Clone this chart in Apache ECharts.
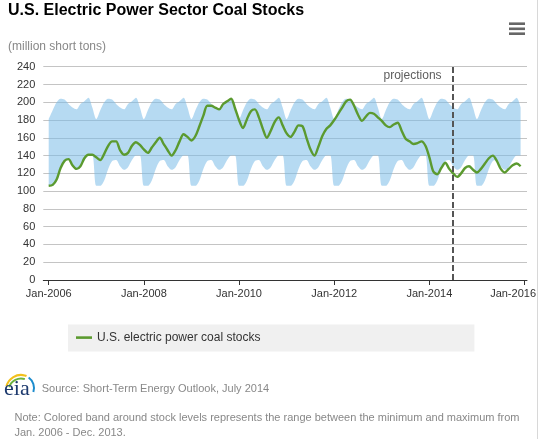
<!DOCTYPE html>
<html>
<head>
<meta charset="utf-8">
<script src="https://cdn.jsdelivr.net/npm/echarts@6/dist/echarts.min.js"></script>
<style>
  html, body { margin: 0; padding: 0; background: #fff; }
  #chart { width: 539px; height: 439px; }
</style>
</head>
<body>
<div id="chart"></div>
<script>
// ---- Data (million short tons), monthly Jan-2006 .. Dec-2015 ----
const seriesName = 'U.S. electric power coal stocks';
const coalStocks = [
  106, 107, 113, 126, 134, 136, 129, 125, 128, 137, 141, 141, // 2006
  138, 135, 142, 151, 156, 156, 146, 141, 143, 151, 155, 152, // 2007
  147, 143, 149, 155, 160, 153, 146, 140, 146, 156, 164, 161, // 2008
  157, 162, 173, 185, 196, 196, 194, 192, 198, 201, 204, 193, // 2009
  180, 171, 181, 190, 192, 183, 170, 160, 168, 178, 183, 174, // 2010
  165, 161, 167, 174, 173, 160, 147, 140, 150, 162, 170, 174, // 2011
  180, 187, 194, 201, 203, 196, 186, 179, 184, 188, 187, 183, // 2012
  179, 174, 172, 175, 177, 168, 159, 156, 153, 154, 156, 151, // 2013
  138, 122, 119, 126, 132, 125, 120, 116, 120, 126, 128, 124, // 2014
  121, 125, 131, 137, 140, 134, 125, 121, 125, 129, 131, 128  // 2015
];
// Monthly min / max range (Jan..Dec) 2006-2013, shown each year
const bandMin = [106, 106, 112, 125, 134, 135, 128, 124, 127, 135, 140, 140];
const bandMax = [181, 191, 200, 204, 203, 198, 194, 192, 198, 201, 205, 194];
const bandYears = 10;
const firstYear = 2006, lastYear = 2016;
const monthNames = ['Jan','Feb','Mar','Apr','May','Jun','Jul','Aug','Sep','Oct','Nov','Dec'];
const projectionStart = 101.6;          // month index (mid-2014)
const yTicks = { min: 0, max: 240, step: 20 };

// ---- Build tables ----
const categories = [];
for (let y = firstYear; y < lastYear; y++) monthNames.forEach(m => categories.push(m + '-' + y));
categories.push('Jan-' + lastYear);
const lowData = [], rangeData = [];
for (let y = 0; y < bandYears; y++) {
  for (let m = 0; m < 12; m++) {
    lowData.push(bandMin[m]);
    rangeData.push(bandMax[m] - bandMin[m]);
  }
}

const FF = '"Liberation Sans", Arial, sans-serif';
const green = '#5b9a2f';
const GT = 66.7, GB = 159;

const chart = echarts.init(document.getElementById('chart'), null, { renderer: 'canvas' });
chart.setOption({
  animation: false,
  backgroundColor: '#fff',
  textStyle: { fontFamily: FF },
  title: [
    { text: 'U.S. Electric Power Sector Coal Stocks', left: 8, top: 2.5, padding: 0,
      textStyle: { fontFamily: FF, fontSize: 16, fontWeight: 'bold', color: '#000' } },
    { text: '(million short tons)', left: 8, top: 41, padding: 0,
      textStyle: { fontFamily: FF, fontSize: 12, fontWeight: 'normal', color: '#888' } }
  ],
  grid: [
    { left: 43.3, right: 12, top: GT, bottom: GB },
    { left: 48.7, right: 13.3, top: GT, bottom: GB }
  ],
  legend: {
    data: [seriesName],
    left: 68, top: 324.5,
    backgroundColor: '#f0f0f0',
    padding: [6, 214, 7, 8],
    itemWidth: 16, itemHeight: 14,
    icon: 'path://M0,0 M0,5.8 L16,5.8 L16,8.4 L0,8.4 Z M16,14',
    itemStyle: { color: green },
    textStyle: { fontFamily: FF, fontSize: 12, color: '#333' },
    selectedMode: false
  },
  xAxis: [
    {
      gridIndex: 0, type: 'value', min: -1.36, max: 120.33,
      axisLine: { show: true, lineStyle: { color: '#333', width: 1 } },
      axisTick: { show: false }, axisLabel: { show: false }, splitLine: { show: false }
    },
    {
      gridIndex: 1, type: 'category', data: categories, boundaryGap: false,
      axisLine: { show: false },
      axisTick: { show: true, interval: 23, length: 5, lineStyle: { color: '#333' } },
      axisLabel: {
        interval: 23, margin: 8, color: '#333', fontSize: 11, fontFamily: FF,
        formatter: function (v, i) {
          return i === categories.length - 1 ? '{last|' + v + '}' : v;
        },
        rich: { last: { padding: [0, 23, 0, 0], color: '#333', fontSize: 11, fontFamily: FF } }
      },
      splitLine: { show: false }
    }
  ],
  yAxis: [
    {
      gridIndex: 0, type: 'value',
      min: yTicks.min, max: yTicks.max, interval: yTicks.step,
      axisLine: { show: false }, axisTick: { show: false },
      axisLabel: { color: '#333', fontSize: 11, fontFamily: FF, margin: 8 },
      splitLine: { show: true, lineStyle: { color: '#c4c4c4', width: 1 } }
    },
    {
      gridIndex: 1, type: 'value',
      min: yTicks.min, max: yTicks.max, interval: yTicks.step,
      show: false, splitLine: { show: false }
    }
  ],
  series: [
    {
      name: 'bandLow', type: 'line', stack: 'band', data: lowData,
      xAxisIndex: 1, yAxisIndex: 1,
      symbol: 'none', smooth: 0.3, silent: true,
      lineStyle: { opacity: 0 }, z: 1
    },
    {
      name: 'bandRange', type: 'line', stack: 'band', data: rangeData,
      xAxisIndex: 1, yAxisIndex: 1,
      symbol: 'none', smooth: 0.3, silent: true,
      lineStyle: { opacity: 0 },
      areaStyle: { color: 'rgba(122,188,232,0.55)', opacity: 1 }, z: 1
    },
    {
      name: seriesName, type: 'line', data: coalStocks,
      xAxisIndex: 1, yAxisIndex: 1,
      symbol: 'none', smooth: 0.3,
      lineStyle: { color: green, width: 2.4 },
      itemStyle: { color: green },
      z: 3
    },
    {
      name: 'projLabel', type: 'scatter', silent: true,
      xAxisIndex: 0, yAxisIndex: 0,
      data: [[projectionStart, 230]], symbolSize: 0,
      label: { show: true, position: 'left', distance: 11, formatter: 'projections',
               color: '#333', fontSize: 12, fontFamily: FF },
      markLine: {
        silent: true, symbol: ['none', 'none'],
        label: { show: false },
        lineStyle: { color: '#555', width: 2, type: [6, 3] },
        data: [{ xAxis: projectionStart }]
      },
      z: 4
    }
  ],
  graphic: [
    // export menu icon
    { type: 'rect', shape: { x: 509, y: 22.4, width: 16, height: 2.6 }, style: { fill: '#666' } },
    { type: 'rect', shape: { x: 509, y: 27.5, width: 16, height: 2.6 }, style: { fill: '#666' } },
    { type: 'rect', shape: { x: 509, y: 32.4, width: 16, height: 2.6 }, style: { fill: '#666' } },
    // right border
    { type: 'line', shape: { x1: 537.5, y1: 0, x2: 537.5, y2: 439 }, style: { stroke: '#d8d8d8', lineWidth: 1 } },
    // eia logo
    { type: 'arc', shape: { cx: 21, cy: 390, r: 15, startAngle: Math.PI * 1.08, endAngle: Math.PI * 1.62 },
      style: { stroke: '#f2c01c', lineWidth: 2.2, fill: null } },
    { type: 'arc', shape: { cx: 21, cy: 391, r: 12.5, startAngle: Math.PI * 1.1, endAngle: Math.PI * 1.6 },
      style: { stroke: '#6db33f', lineWidth: 2, fill: null } },
    { type: 'arc', shape: { cx: 21, cy: 388, r: 13, startAngle: Math.PI * 1.7, endAngle: Math.PI * 2.1 },
      style: { stroke: '#1c8ccd', lineWidth: 2, fill: null } },
    { type: 'text', style: { text: 'eia', x: 4, y: 400, fill: '#1d3a6e',
      font: '22px "Liberation Serif", "DejaVu Serif", serif', verticalAlign: 'bottom' } },
    // footer
    { type: 'text', style: { text: 'Source: Short-Term Energy Outlook, July 2014', x: 41.7, y: 389,
      fill: '#888', font: '11px ' + FF, verticalAlign: 'middle' } },
    { type: 'text', style: { text: 'Note: Colored band around stock levels represents the range between the minimum and maximum from',
      x: 14.5, y: 417.8, fill: '#888', font: '11px ' + FF, verticalAlign: 'middle' } },
    { type: 'text', style: { text: 'Jan. 2006 - Dec. 2013.', x: 14.5, y: 433.3,
      fill: '#888', font: '11px ' + FF, verticalAlign: 'middle' } }
  ]
});
</script>
</body>
</html>
